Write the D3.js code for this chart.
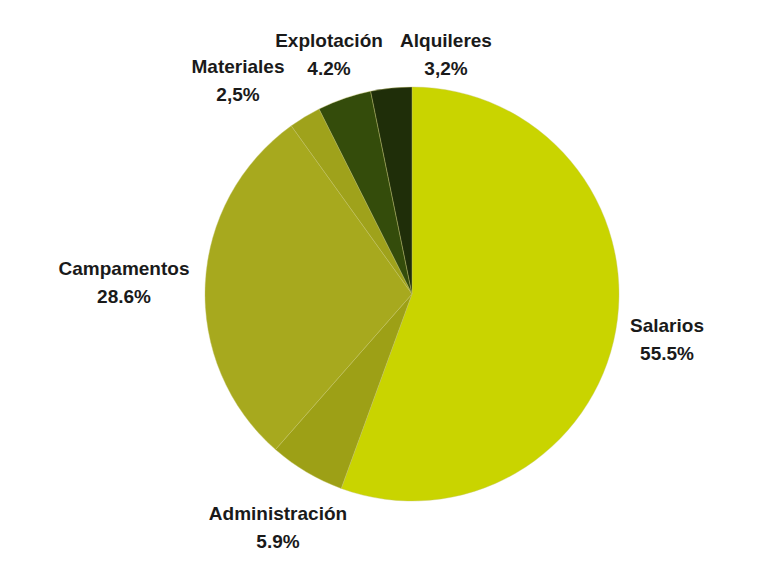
<!DOCTYPE html>
<html>
<head>
<meta charset="utf-8">
<script src="https://cdn.jsdelivr.net/npm/d3@7"></script>
<style>
  body { margin: 0; background: #fff; }
  text { font-family: "Liberation Sans", Arial, sans-serif; font-weight: bold; }
</style>
</head>
<body>
<div id="chart"></div>
<script>
// datos del gráfico, en el orden de las agujas del reloj desde arriba
const categorias = ["Salarios", "Administración", "Campamentos", "Materiales", "Explotación", "Alquileres"];
const valores = [55.5, 5.9, 28.6, 2.5, 4.2, 3.2];
const etiquetasValor = ["55.5%", "5.9%", "28.6%", "2,5%", "4.2%", "3,2%"];
const colores = ["#c9d400", "#9da016", "#a7a91e", "#9fa21b", "#344c0b", "#1f2e09"];

const width = 768, height = 576;
const cx = 412, cy = 294, radius = 207;

// posición de cada etiqueta (centro del bloque de texto)
const posEtiqueta = {
    "Salarios": [667, 326],
    "Administración": [278, 514],
    "Campamentos": [124, 269],
    "Materiales": [238, 67],
    "Explotación": [329, 41],
    "Alquileres": [446, 41]
};

let data = categorias.map((c, i) => ({ cat: c, val: valores[i], lab: etiquetasValor[i], color: colores[i] }));

let svg = d3.select("#chart")
    .append("svg")
    .attr("width", width)
    .attr("height", height);

let pie = d3.pie()
    .value(d => d.val)
    .sort(null);

let arc = d3.arc()
    .innerRadius(0)
    .outerRadius(radius);

let g = svg.append("g")
    .attr("transform", `translate(${cx},${cy})`);

g.selectAll("path")
    .data(pie(data))
    .enter()
    .append("path")
    .attr("d", arc)
    .attr("fill", d => d.data.color)
    .attr("stroke", "#c4c66a")
    .attr("stroke-width", 0.4);

let labels = svg.selectAll(".label")
    .data(data)
    .enter()
    .append("text")
    .attr("class", "label")
    .attr("text-anchor", "middle")
    .style("font-size", "19px")
    .style("fill", "#1a1a1a");

labels.append("tspan")
    .attr("x", d => posEtiqueta[d.cat][0])
    .attr("y", d => posEtiqueta[d.cat][1] + 6)
    .text(d => d.cat);

labels.append("tspan")
    .attr("x", d => posEtiqueta[d.cat][0])
    .attr("y", d => posEtiqueta[d.cat][1] + 34)
    .text(d => d.lab);
</script>
</body>
</html>
